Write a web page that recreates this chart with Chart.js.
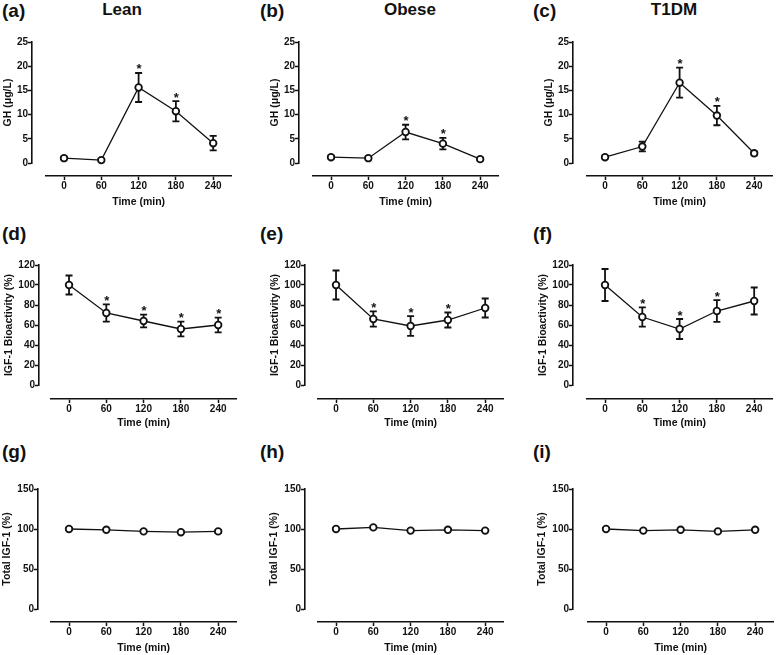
<!DOCTYPE html>
<html>
<head>
<meta charset="utf-8">
<script src="https://cdn.jsdelivr.net/npm/chart.js@4.4.0/dist/chart.umd.min.js"></script>
<style>
html, body { margin: 0; padding: 0; background: #fff; overflow: hidden; }
body { width: 777px; height: 655px; position: relative; font-family: "Liberation Sans", Arial, sans-serif; color: #111; }
.letra { position: absolute; font-weight: bold; font-size: 19px; line-height: 19px; white-space: nowrap; }
.grupo { position: absolute; font-weight: bold; font-size: 17px; line-height: 17px; white-space: nowrap; transform: translateX(-50%); }
canvas { position: absolute; }
</style>
</head>
<body>
<script>
// dados
const times = [0, 60, 120, 180, 240]
const xTicks = [0, 60, 120, 180, 240]
const groups = ['Lean', 'Obese', 'T1DM']
const letters = ['(a)', '(b)', '(c)', '(d)', '(e)', '(f)', '(g)', '(h)', '(i)']
const yTitles = ['GH (\u03bcg/L)', 'IGF-1 Bioactivity (%)', 'Total IGF-1 (%)']
const xTitle = 'Time (min)'

const ghTicks = [0, 5, 10, 15, 20, 25]
const bioTicks = [0, 20, 40, 60, 80, 100, 120]
const totTicks = [0, 50, 100, 150]

const ghLean = [1.0, 0.6, 15.6, 10.7, 4.1]
const ghLeanErr = [0.3, 0.3, 3.0, 2.1, 1.5]
const ghLeanSig = [0, 0, 1, 1, 0]
const ghObese = [1.2, 1.0, 6.4, 4.0, 0.8]
const ghObeseErr = [0.3, 0.3, 1.5, 1.2, 0.3]
const ghObeseSig = [0, 0, 1, 1, 0]
const ghT1dm = [1.2, 3.4, 16.6, 9.8, 2.0]
const ghT1dmErr = [0.3, 1.0, 3.1, 2.0, 0.4]
const ghT1dmSig = [0, 0, 1, 1, 0]

const bioLean = [100, 72, 64, 56, 60]
const bioLeanErr = [9.5, 8.7, 6.3, 7.3, 7.3]
const bioLeanSig = [0, 1, 1, 1, 1]
const bioObese = [100, 66, 59, 65, 77]
const bioObeseErr = [14.5, 7.7, 9.8, 7.5, 9.5]
const bioObeseSig = [0, 1, 1, 1, 0]
const bioT1dm = [100, 68, 56, 74, 84]
const bioT1dmErr = [16, 9.7, 10, 10.8, 13.5]
const bioT1dmSig = [0, 1, 1, 1, 0]

const totLean = [100, 99, 97, 96, 97]
const totLeanErr = [1, 1, 1, 1, 2]
const totObese = [100, 102, 98, 99, 98]
const totObeseErr = [1, 1, 2, 1, 1]
const totT1dm = [100, 98, 99, 97, 99]
const totT1dmErr = [1, 1, 1, 1, 1]
const noSig = [0, 0, 0, 0, 0]

const panels = [
  [ghLean, ghLeanErr, ghLeanSig], [ghObese, ghObeseErr, ghObeseSig], [ghT1dm, ghT1dmErr, ghT1dmSig],
  [bioLean, bioLeanErr, bioLeanSig], [bioObese, bioObeseErr, bioObeseSig], [bioT1dm, bioT1dmErr, bioT1dmSig],
  [totLean, totLeanErr, noSig], [totObese, totObeseErr, noSig], [totT1dm, totT1dmErr, noSig]
]
const rowTicks = [ghTicks, bioTicks, totTicks]

// layout (px)
const W_Y = 40, H_X = 34, PAD_T = 8, PAD_R = 3, CW = 188
const X_MIN = -29, X_MAX = 269
const axisXs = [[32, 299, 573], [39, 305, 573], [38, 305, 573]]
const zeroXs = [[64, 331, 605], [69, 336, 605], [69, 336, 606]]
const rowTop = [42, 265, 489]
const rowBottom = [163, 385, 609]
const rowGapY = [13, 14, 13]
const yTitleGap = [24, 30, 31]
const xTitleGap = [26, 24, 26]
const letterLeft = [2, 260, 533]
const letterTop = [1, 224, 442]
const groupCenter = [122, 410, 674]

Chart.defaults.font.family = '"Liberation Sans", Arial, sans-serif'
Chart.defaults.font.weight = 'bold'
Chart.defaults.color = '#111'

// eixos destacados (estilo Prism): eixo y deslocado p/ esquerda, eixo x p/ baixo
const offsetAxes = {
  id: 'offsetAxes',
  afterLayout(chart, args, opts) {
    const { x, y } = chart.scales
    y.left -= opts.gapX
    y.right -= opts.gapX
    x.top += opts.gapY
    x.bottom += opts.gapY
  }
}

const errorBars = {
  id: 'errorBars',
  beforeDatasetsDraw(chart) {
    const { ctx, scales: { x, y } } = chart
    const ds = chart.data.datasets[0]
    ctx.save()
    ctx.strokeStyle = '#111'
    ctx.fillStyle = '#111'
    ctx.lineWidth = 1.8
    ctx.font = 'bold 13px "Liberation Sans", Arial, sans-serif'
    ctx.textAlign = 'center'
    ds.data.forEach((p, i) => {
      const e = ds.errors[i]
      const px = x.getPixelForValue(p.x)
      const top = y.getPixelForValue(p.y + e)
      const bot = y.getPixelForValue(p.y - e)
      ctx.beginPath()
      ctx.moveTo(px, top); ctx.lineTo(px, bot)
      ctx.moveTo(px - 3.5, top); ctx.lineTo(px + 3.5, top)
      ctx.moveTo(px - 3.5, bot); ctx.lineTo(px + 3.5, bot)
      ctx.stroke()
      if (ds.sig[i]) ctx.fillText('*', px + 0.5, top + 0.5)
    })
    ctx.restore()
  }
}

const addText = (cls, text, left, top) => {
  const $d = document.createElement('div')
  $d.className = cls
  $d.textContent = text
  $d.style.left = left + 'px'
  $d.style.top = top + 'px'
  document.body.appendChild($d)
}

const criarPainel = (idx) => {
  const row = Math.floor(idx / 3)
  const col = idx % 3
  const [values, errs, sig] = panels[idx]
  const ticks = rowTicks[row]

  const axisX = axisXs[row][col]
  const chartLeft = zeroXs[row][col] - 18
  const gapX = chartLeft - axisX
  const gapY = rowGapY[row]
  const CH = rowBottom[row] - rowTop[row]

  const $c = document.createElement('canvas')
  $c.width = gapX + W_Y + CW + PAD_R
  $c.height = PAD_T + CH + H_X + gapY
  $c.style.left = (axisX - W_Y) + 'px'
  $c.style.top = (rowTop[row] - PAD_T) + 'px'
  document.body.appendChild($c)

  new Chart($c, {
    type: 'line',
    data: {
      datasets: [{
        data: times.map((t, i) => ({ x: t, y: values[i] })),
        errors: errs,
        sig: sig,
        borderColor: '#111',
        borderWidth: 1.3,
        tension: 0,
        pointRadius: 3.3,
        pointBorderWidth: 1.8,
        pointBorderColor: '#111',
        pointBackgroundColor: '#fff',
        clip: false
      }]
    },
    options: {
      responsive: false,
      animation: false,
      devicePixelRatio: 1,
      layout: { padding: { left: gapX, right: PAD_R, top: PAD_T, bottom: gapY } },
      plugins: {
        legend: { display: false },
        tooltip: { enabled: false },
        offsetAxes: { gapX: gapX, gapY: gapY }
      },
      scales: {
        x: {
          type: 'linear',
          min: X_MIN,
          max: X_MAX,
          afterBuildTicks: (s) => { s.ticks = xTicks.map(v => ({ value: v })) },
          afterFit: (s) => { s.height = H_X },
          grid: { drawOnChartArea: false, drawTicks: true, tickLength: 4, tickColor: '#111', tickWidth: 1.5 },
          border: { display: true, color: '#111', width: 1.6 },
          ticks: { font: { size: 10, weight: 'bold' }, padding: 0, maxRotation: 0, color: '#111' },
          title: {
            display: true, text: xTitle, color: '#111',
            font: { size: 10.5, weight: 'bold' },
            padding: { top: 0, bottom: H_X - xTitleGap[row] - 6.3 }
          }
        },
        y: {
          min: ticks[0],
          max: ticks[ticks.length - 1],
          afterBuildTicks: (s) => { s.ticks = ticks.map(v => ({ value: v })) },
          afterFit: (s) => { s.width = W_Y },
          grid: { drawOnChartArea: false, drawTicks: true, tickLength: 4, tickColor: '#111', tickWidth: 1.5 },
          border: { display: true, color: '#111', width: 1.6 },
          ticks: { font: { size: 10, weight: 'bold' }, padding: 0, color: '#111' },
          title: {
            display: true, text: yTitles[row], color: '#111',
            font: { size: 10.5, weight: 'bold' },
            padding: { top: W_Y - yTitleGap[row] - 6.3, bottom: 0 }
          }
        }
      }
    },
    plugins: [offsetAxes, errorBars]
  })

  addText('letra', letters[idx], letterLeft[col], letterTop[row])
  if (row === 0) addText('grupo', groups[col], groupCenter[col], 1)
}

panels.forEach((p, i) => criarPainel(i))
</script>
</body>
</html>
